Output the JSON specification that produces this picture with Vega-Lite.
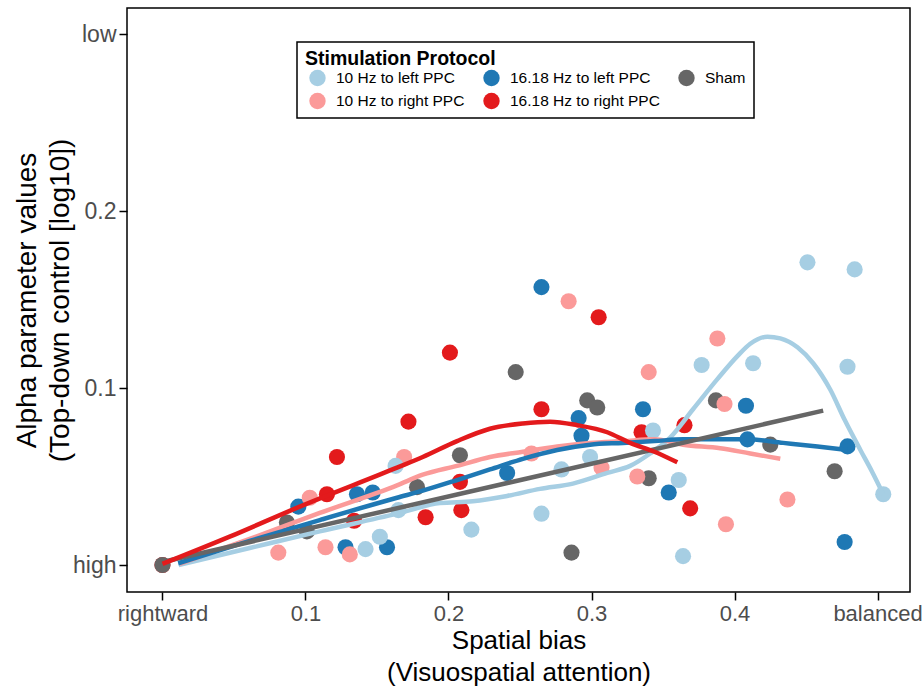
{
  "$schema": "https://vega.github.io/schema/vega-lite/v6.json",
  "width": 783,
  "height": 584,
  "autosize": {"type": "none"},
  "padding": {"left": 127, "top": 8, "right": 12, "bottom": 94},
  "background": "white",
  "config": {
    "font": "Liberation Sans",
    "view": {"stroke": "black", "strokeWidth": 1.5},
    "axis": {
      "grid": false,
      "domain": false,
      "ticks": true,
      "tickColor": "black",
      "tickSize": 8,
      "tickWidth": 1.5,
      "labelFont": "Liberation Sans",
      "labelColor": "#4d4d4d",
      "labelPadding": 3,
      "titleFont": "Liberation Sans",
      "titleFontWeight": "normal",
      "titleColor": "black"
    },
    "legend": {
      "orient": "none",
      "legendX": 170,
      "legendY": 34,
      "columns": 3,
      "strokeColor": "black",
      "strokeWidth": 1.5,
      "fillColor": "white",
      "padding": 8,
      "titleFont": "Liberation Sans",
      "titleFontSize": 19.5,
      "titleFontWeight": "bold",
      "titleColor": "black",
      "titlePadding": 0,
      "titleLimit": 400,
      "labelFont": "Liberation Sans",
      "labelFontSize": 15.5,
      "labelColor": "black",
      "labelOffset": 10,
      "labelLimit": 300,
      "symbolType": "circle",
      "symbolSize": 270,
      "symbolOffset": 4,
      "symbolStrokeWidth": 0,
      "symbolOpacity": 1,
      "columnPadding": 14,
      "rowPadding": 6
    }
  },
  "datasets": {
    "points": [
      {"bias": 0, "alpha": 0, "protocol": "16.18 Hz to right PPC"},
      {"bias": 0.115, "alpha": 0.040, "protocol": "16.18 Hz to right PPC"},
      {"bias": 0.122, "alpha": 0.061, "protocol": "16.18 Hz to right PPC"},
      {"bias": 0.134, "alpha": 0.025, "protocol": "16.18 Hz to right PPC"},
      {"bias": 0.172, "alpha": 0.081, "protocol": "16.18 Hz to right PPC"},
      {"bias": 0.184, "alpha": 0.027, "protocol": "16.18 Hz to right PPC"},
      {"bias": 0.201, "alpha": 0.120, "protocol": "16.18 Hz to right PPC"},
      {"bias": 0.208, "alpha": 0.047, "protocol": "16.18 Hz to right PPC"},
      {"bias": 0.209, "alpha": 0.031, "protocol": "16.18 Hz to right PPC"},
      {"bias": 0.265, "alpha": 0.088, "protocol": "16.18 Hz to right PPC"},
      {"bias": 0.305, "alpha": 0.140, "protocol": "16.18 Hz to right PPC"},
      {"bias": 0.335, "alpha": 0.075, "protocol": "16.18 Hz to right PPC"},
      {"bias": 0.365, "alpha": 0.079, "protocol": "16.18 Hz to right PPC"},
      {"bias": 0.369, "alpha": 0.032, "protocol": "16.18 Hz to right PPC"},
      {"bias": 0.095, "alpha": 0.033, "protocol": "16.18 Hz to left PPC"},
      {"bias": 0.128, "alpha": 0.010, "protocol": "16.18 Hz to left PPC"},
      {"bias": 0.136, "alpha": 0.040, "protocol": "16.18 Hz to left PPC"},
      {"bias": 0.147, "alpha": 0.041, "protocol": "16.18 Hz to left PPC"},
      {"bias": 0.157, "alpha": 0.010, "protocol": "16.18 Hz to left PPC"},
      {"bias": 0.241, "alpha": 0.052, "protocol": "16.18 Hz to left PPC"},
      {"bias": 0.265, "alpha": 0.157, "protocol": "16.18 Hz to left PPC"},
      {"bias": 0.291, "alpha": 0.083, "protocol": "16.18 Hz to left PPC"},
      {"bias": 0.293, "alpha": 0.073, "protocol": "16.18 Hz to left PPC"},
      {"bias": 0.336, "alpha": 0.088, "protocol": "16.18 Hz to left PPC"},
      {"bias": 0.354, "alpha": 0.041, "protocol": "16.18 Hz to left PPC"},
      {"bias": 0.408, "alpha": 0.090, "protocol": "16.18 Hz to left PPC"},
      {"bias": 0.409, "alpha": 0.071, "protocol": "16.18 Hz to left PPC"},
      {"bias": 0.477, "alpha": 0.013, "protocol": "16.18 Hz to left PPC"},
      {"bias": 0.479, "alpha": 0.067, "protocol": "16.18 Hz to left PPC"},
      {"bias": 0, "alpha": 0, "protocol": "Sham"},
      {"bias": 0.087, "alpha": 0.024, "protocol": "Sham"},
      {"bias": 0.101, "alpha": 0.019, "protocol": "Sham"},
      {"bias": 0.178, "alpha": 0.044, "protocol": "Sham"},
      {"bias": 0.208, "alpha": 0.062, "protocol": "Sham"},
      {"bias": 0.247, "alpha": 0.109, "protocol": "Sham"},
      {"bias": 0.286, "alpha": 0.007, "protocol": "Sham"},
      {"bias": 0.297, "alpha": 0.093, "protocol": "Sham"},
      {"bias": 0.304, "alpha": 0.089, "protocol": "Sham"},
      {"bias": 0.340, "alpha": 0.049, "protocol": "Sham"},
      {"bias": 0.387, "alpha": 0.093, "protocol": "Sham"},
      {"bias": 0.425, "alpha": 0.068, "protocol": "Sham"},
      {"bias": 0.470, "alpha": 0.053, "protocol": "Sham"},
      {"bias": 0.081, "alpha": 0.007, "protocol": "10 Hz to right PPC"},
      {"bias": 0.103, "alpha": 0.038, "protocol": "10 Hz to right PPC"},
      {"bias": 0.114, "alpha": 0.010, "protocol": "10 Hz to right PPC"},
      {"bias": 0.131, "alpha": 0.006, "protocol": "10 Hz to right PPC"},
      {"bias": 0.169, "alpha": 0.061, "protocol": "10 Hz to right PPC"},
      {"bias": 0.258, "alpha": 0.063, "protocol": "10 Hz to right PPC"},
      {"bias": 0.284, "alpha": 0.149, "protocol": "10 Hz to right PPC"},
      {"bias": 0.307, "alpha": 0.055, "protocol": "10 Hz to right PPC"},
      {"bias": 0.332, "alpha": 0.050, "protocol": "10 Hz to right PPC"},
      {"bias": 0.340, "alpha": 0.109, "protocol": "10 Hz to right PPC"},
      {"bias": 0.388, "alpha": 0.128, "protocol": "10 Hz to right PPC"},
      {"bias": 0.393, "alpha": 0.091, "protocol": "10 Hz to right PPC"},
      {"bias": 0.394, "alpha": 0.023, "protocol": "10 Hz to right PPC"},
      {"bias": 0.437, "alpha": 0.037, "protocol": "10 Hz to right PPC"},
      {"bias": 0.142, "alpha": 0.009, "protocol": "10 Hz to left PPC"},
      {"bias": 0.152, "alpha": 0.016, "protocol": "10 Hz to left PPC"},
      {"bias": 0.163, "alpha": 0.056, "protocol": "10 Hz to left PPC"},
      {"bias": 0.165, "alpha": 0.031, "protocol": "10 Hz to left PPC"},
      {"bias": 0.216, "alpha": 0.020, "protocol": "10 Hz to left PPC"},
      {"bias": 0.265, "alpha": 0.029, "protocol": "10 Hz to left PPC"},
      {"bias": 0.279, "alpha": 0.054, "protocol": "10 Hz to left PPC"},
      {"bias": 0.299, "alpha": 0.061, "protocol": "10 Hz to left PPC"},
      {"bias": 0.343, "alpha": 0.076, "protocol": "10 Hz to left PPC"},
      {"bias": 0.361, "alpha": 0.048, "protocol": "10 Hz to left PPC"},
      {"bias": 0.364, "alpha": 0.005, "protocol": "10 Hz to left PPC"},
      {"bias": 0.377, "alpha": 0.113, "protocol": "10 Hz to left PPC"},
      {"bias": 0.413, "alpha": 0.114, "protocol": "10 Hz to left PPC"},
      {"bias": 0.451, "alpha": 0.171, "protocol": "10 Hz to left PPC"},
      {"bias": 0.479, "alpha": 0.112, "protocol": "10 Hz to left PPC"},
      {"bias": 0.484, "alpha": 0.167, "protocol": "10 Hz to left PPC"},
      {"bias": 0.504, "alpha": 0.040, "protocol": "10 Hz to left PPC"}
    ],
    "curves": [
      {"bias": 0.0113, "alpha": 0.0, "protocol": "10 Hz to left PPC"},
      {"bias": 0.061, "alpha": 0.0096, "protocol": "10 Hz to left PPC"},
      {"bias": 0.110, "alpha": 0.019, "protocol": "10 Hz to left PPC"},
      {"bias": 0.164, "alpha": 0.029, "protocol": "10 Hz to left PPC"},
      {"bias": 0.194, "alpha": 0.035, "protocol": "10 Hz to left PPC"},
      {"bias": 0.217, "alpha": 0.036, "protocol": "10 Hz to left PPC"},
      {"bias": 0.241, "alpha": 0.039, "protocol": "10 Hz to left PPC"},
      {"bias": 0.264, "alpha": 0.043, "protocol": "10 Hz to left PPC"},
      {"bias": 0.287, "alpha": 0.046, "protocol": "10 Hz to left PPC"},
      {"bias": 0.311, "alpha": 0.052, "protocol": "10 Hz to left PPC"},
      {"bias": 0.327, "alpha": 0.056, "protocol": "10 Hz to left PPC"},
      {"bias": 0.341, "alpha": 0.063, "protocol": "10 Hz to left PPC"},
      {"bias": 0.355, "alpha": 0.072, "protocol": "10 Hz to left PPC"},
      {"bias": 0.371, "alpha": 0.088, "protocol": "10 Hz to left PPC"},
      {"bias": 0.388, "alpha": 0.105, "protocol": "10 Hz to left PPC"},
      {"bias": 0.402, "alpha": 0.118, "protocol": "10 Hz to left PPC"},
      {"bias": 0.411, "alpha": 0.125, "protocol": "10 Hz to left PPC"},
      {"bias": 0.423, "alpha": 0.129, "protocol": "10 Hz to left PPC"},
      {"bias": 0.432, "alpha": 0.128, "protocol": "10 Hz to left PPC"},
      {"bias": 0.444, "alpha": 0.123, "protocol": "10 Hz to left PPC"},
      {"bias": 0.455, "alpha": 0.114, "protocol": "10 Hz to left PPC"},
      {"bias": 0.467, "alpha": 0.099, "protocol": "10 Hz to left PPC"},
      {"bias": 0.477, "alpha": 0.082, "protocol": "10 Hz to left PPC"},
      {"bias": 0.488, "alpha": 0.065, "protocol": "10 Hz to left PPC"},
      {"bias": 0.496, "alpha": 0.053, "protocol": "10 Hz to left PPC"},
      {"bias": 0.504, "alpha": 0.040, "protocol": "10 Hz to left PPC"},
      {"bias": 0.012, "alpha": 0.0006, "protocol": "10 Hz to right PPC"},
      {"bias": 0.061, "alpha": 0.0147, "protocol": "10 Hz to right PPC"},
      {"bias": 0.110, "alpha": 0.0294, "protocol": "10 Hz to right PPC"},
      {"bias": 0.164, "alpha": 0.045, "protocol": "10 Hz to right PPC"},
      {"bias": 0.182, "alpha": 0.051, "protocol": "10 Hz to right PPC"},
      {"bias": 0.206, "alpha": 0.056, "protocol": "10 Hz to right PPC"},
      {"bias": 0.229, "alpha": 0.061, "protocol": "10 Hz to right PPC"},
      {"bias": 0.252, "alpha": 0.064, "protocol": "10 Hz to right PPC"},
      {"bias": 0.276, "alpha": 0.067, "protocol": "10 Hz to right PPC"},
      {"bias": 0.299, "alpha": 0.069, "protocol": "10 Hz to right PPC"},
      {"bias": 0.322, "alpha": 0.070, "protocol": "10 Hz to right PPC"},
      {"bias": 0.344, "alpha": 0.071, "protocol": "10 Hz to right PPC"},
      {"bias": 0.364, "alpha": 0.068, "protocol": "10 Hz to right PPC"},
      {"bias": 0.390, "alpha": 0.066, "protocol": "10 Hz to right PPC"},
      {"bias": 0.411, "alpha": 0.063, "protocol": "10 Hz to right PPC"},
      {"bias": 0.432, "alpha": 0.060, "protocol": "10 Hz to right PPC"},
      {"bias": 0.011, "alpha": 0.001, "protocol": "16.18 Hz to left PPC"},
      {"bias": 0.061, "alpha": 0.0136, "protocol": "16.18 Hz to left PPC"},
      {"bias": 0.110, "alpha": 0.0254, "protocol": "16.18 Hz to left PPC"},
      {"bias": 0.164, "alpha": 0.038, "protocol": "16.18 Hz to left PPC"},
      {"bias": 0.182, "alpha": 0.042, "protocol": "16.18 Hz to left PPC"},
      {"bias": 0.206, "alpha": 0.048, "protocol": "16.18 Hz to left PPC"},
      {"bias": 0.229, "alpha": 0.054, "protocol": "16.18 Hz to left PPC"},
      {"bias": 0.252, "alpha": 0.060, "protocol": "16.18 Hz to left PPC"},
      {"bias": 0.276, "alpha": 0.065, "protocol": "16.18 Hz to left PPC"},
      {"bias": 0.299, "alpha": 0.068, "protocol": "16.18 Hz to left PPC"},
      {"bias": 0.322, "alpha": 0.069, "protocol": "16.18 Hz to left PPC"},
      {"bias": 0.344, "alpha": 0.070, "protocol": "16.18 Hz to left PPC"},
      {"bias": 0.364, "alpha": 0.071, "protocol": "16.18 Hz to left PPC"},
      {"bias": 0.409, "alpha": 0.071, "protocol": "16.18 Hz to left PPC"},
      {"bias": 0.434, "alpha": 0.069, "protocol": "16.18 Hz to left PPC"},
      {"bias": 0.458, "alpha": 0.067, "protocol": "16.18 Hz to left PPC"},
      {"bias": 0.479, "alpha": 0.065, "protocol": "16.18 Hz to left PPC"},
      {"bias": 0.0, "alpha": 0.0017, "protocol": "Sham"},
      {"bias": 0.462, "alpha": 0.0872, "protocol": "Sham"},
      {"bias": 0.0, "alpha": 0.0006, "protocol": "16.18 Hz to right PPC"},
      {"bias": 0.047, "alpha": 0.016, "protocol": "16.18 Hz to right PPC"},
      {"bias": 0.096, "alpha": 0.033, "protocol": "16.18 Hz to right PPC"},
      {"bias": 0.164, "alpha": 0.055, "protocol": "16.18 Hz to right PPC"},
      {"bias": 0.182, "alpha": 0.061, "protocol": "16.18 Hz to right PPC"},
      {"bias": 0.206, "alpha": 0.070, "protocol": "16.18 Hz to right PPC"},
      {"bias": 0.229, "alpha": 0.077, "protocol": "16.18 Hz to right PPC"},
      {"bias": 0.252, "alpha": 0.080, "protocol": "16.18 Hz to right PPC"},
      {"bias": 0.271, "alpha": 0.081, "protocol": "16.18 Hz to right PPC"},
      {"bias": 0.290, "alpha": 0.079, "protocol": "16.18 Hz to right PPC"},
      {"bias": 0.311, "alpha": 0.075, "protocol": "16.18 Hz to right PPC"},
      {"bias": 0.327, "alpha": 0.069, "protocol": "16.18 Hz to right PPC"},
      {"bias": 0.344, "alpha": 0.064, "protocol": "16.18 Hz to right PPC"},
      {"bias": 0.360, "alpha": 0.058, "protocol": "16.18 Hz to right PPC"}
    ]
  },
  "encoding": {
    "x": {
      "field": "bias",
      "type": "quantitative",
      "scale": {"domain": [-0.0248, 0.5227], "nice": false, "zero": false},
      "axis": {
        "values": [0, 0.1, 0.2, 0.3, 0.4, 0.5],
        "labelExpr": "datum.value == 0 ? 'rightward' : (datum.value == 0.5 ? 'balanced' : format(datum.value, '.1f'))",
        "labelFontSize": 22,
        "title": ["Spatial bias", "(Visuospatial attention)"],
        "titleFontSize": 26,
        "titleLineHeight": 32,
        "titlePadding": 3
      }
    },
    "y": {
      "field": "alpha",
      "type": "quantitative",
      "scale": {"domain": [-0.01525, 0.3147], "nice": false, "zero": false},
      "axis": {
        "values": [0, 0.1, 0.2, 0.3],
        "labelExpr": "datum.value == 0 ? 'high' : (datum.value == 0.3 ? 'low' : format(datum.value, '.1f'))",
        "labelFontSize": 23,
        "title": ["Alpha parameter values", "(Top-down control [log10])"],
        "titleFontSize": 28,
        "titleLineHeight": 33,
        "titlePadding": -2
      }
    }
  },
  "layer": [
    {
      "data": {"name": "points"},
      "mark": {"type": "circle", "size": 260, "opacity": 1},
      "encoding": {
        "color": {
          "field": "protocol",
          "type": "nominal",
          "title": "Stimulation Protocol",
          "scale": {
            "domain": ["10 Hz to left PPC", "10 Hz to right PPC", "16.18 Hz to left PPC", "16.18 Hz to right PPC", "Sham"],
            "range": ["#a6cee3", "#fb9a99", "#1f78b4", "#e31a1c", "#666666"]
          }
        }
      }
    },
    {
      "data": {"name": "curves"},
      "mark": {"type": "line", "strokeWidth": 4.5, "interpolate": "monotone"},
      "encoding": {
        "stroke": {
          "field": "protocol",
          "type": "nominal",
          "legend": null,
          "scale": {
            "domain": ["Sham", "10 Hz to left PPC", "10 Hz to right PPC", "16.18 Hz to left PPC", "16.18 Hz to right PPC"],
            "range": ["#666666", "#a6cee3", "#fb9a99", "#1f78b4", "#e31a1c"]
          }
        }
      }
    }
  ]
}
